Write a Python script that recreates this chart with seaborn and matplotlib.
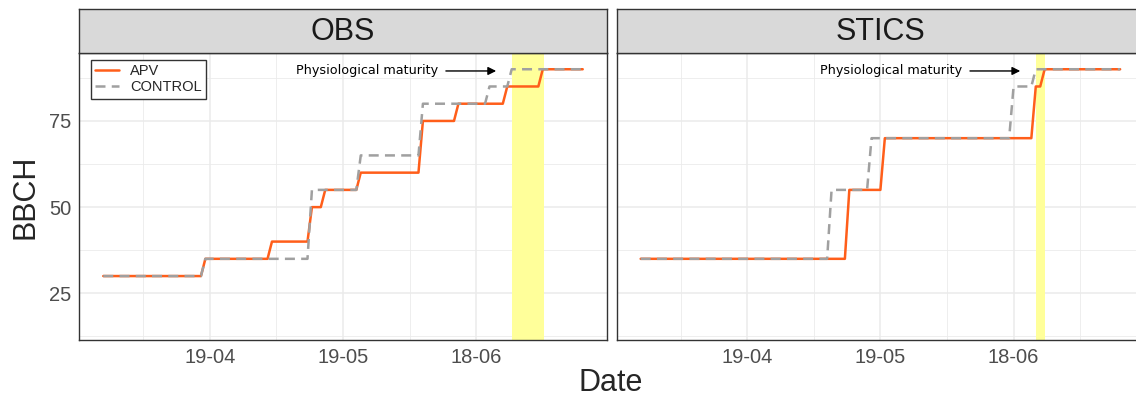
import numpy as np
import pandas as pd
import seaborn as sns
import matplotlib.pyplot as plt
import matplotlib.dates as mdates
from matplotlib.lines import Line2D

# BBCH stage series (vertices of the stepped lines)
obs_apv_dates = ["2022-03-26", "2022-04-17", "2022-04-18", "2022-05-02", "2022-05-03",
                 "2022-05-11", "2022-05-12", "2022-05-14", "2022-05-15", "2022-05-22",
                 "2022-05-23", "2022-06-05", "2022-06-06", "2022-06-13", "2022-06-14",
                 "2022-06-24", "2022-06-25", "2022-07-02", "2022-07-03", "2022-07-12"]
obs_apv_bbch = [30, 30, 35, 35, 40, 40, 50, 50, 55, 55, 60, 60, 75, 75, 80, 80, 85, 85, 90, 90]

obs_ctrl_dates = ["2022-03-26", "2022-04-17", "2022-04-18", "2022-05-11", "2022-05-12",
                  "2022-05-22", "2022-05-23", "2022-06-05", "2022-06-06", "2022-06-20",
                  "2022-06-21", "2022-06-25", "2022-06-26", "2022-07-12"]
obs_ctrl_bbch = [30, 30, 35, 35, 55, 55, 65, 65, 80, 80, 85, 85, 90, 90]

stics_apv_dates = ["2022-03-26", "2022-05-11", "2022-05-12", "2022-05-19", "2022-05-20",
                   "2022-06-22", "2022-06-23", "2022-06-24", "2022-06-25", "2022-07-12"]
stics_apv_bbch = [35, 35, 55, 55, 70, 70, 85, 85, 90, 90]

stics_ctrl_dates = ["2022-03-26", "2022-05-07", "2022-05-08", "2022-05-16", "2022-05-17",
                    "2022-06-17", "2022-06-18", "2022-06-22", "2022-06-23", "2022-07-12"]
stics_ctrl_bbch = [35, 35, 55, 55, 70, 70, 85, 85, 90, 90]

panels = ["OBS", "STICS"]
treatments = ["APV", "CONTROL"]
# physiological maturity window (yellow band)
maturity_start = ["2022-06-26", "2022-06-23"]
maturity_end = ["2022-07-03 04:00", "2022-06-25"]

major_ticks = ["2022-04-19", "2022-05-19", "2022-06-18"]
minor_ticks = ["2022-04-04", "2022-05-04", "2022-06-03", "2022-07-03"]

frames = []
for panel, trt, d, v in [("OBS", "APV", obs_apv_dates, obs_apv_bbch),
                         ("OBS", "CONTROL", obs_ctrl_dates, obs_ctrl_bbch),
                         ("STICS", "APV", stics_apv_dates, stics_apv_bbch),
                         ("STICS", "CONTROL", stics_ctrl_dates, stics_ctrl_bbch)]:
    frames.append(pd.DataFrame({"panel": panel, "treatment": trt,
                                "date": pd.to_datetime(d), "bbch": v}))
df = pd.concat(frames, ignore_index=True)

sns.set_theme(style="whitegrid")
plt.rcParams["font.family"] = ["Liberation Sans", "DejaVu Sans"]

orange = "#FF5E1A"
grey = "#A0A0A0"
palette = {"APV": orange, "CONTROL": grey}
dashes = {"APV": "", "CONTROL": (4, 2.5)}

fig = plt.figure(figsize=(11.36, 4.01), dpi=100)
W, H = 1136, 401
pw = 527.4
lefts = [79.3, 616.7]
top, bottom = 52.7, 340
strip_top = 9

# x limits: data range with 5% padding
xmin, xmax = df["date"].min(), df["date"].max()
pad = (xmax - xmin) * 0.05
xlim = (xmin - pad, xmax + pad)

for i, panel in enumerate(panels):
    ax = fig.add_axes([lefts[i] / W, 1 - bottom / H, pw / W, (bottom - top) / H])
    sub = df[df["panel"] == panel]

    ax.axvspan(pd.Timestamp(maturity_start[i]), pd.Timestamp(maturity_end[i]),
               color="#FFFF9A", lw=0, zorder=1)
    sns.lineplot(data=sub, x="date", y="bbch", hue="treatment", style="treatment",
                 hue_order=treatments, style_order=treatments, palette=palette,
                 dashes=dashes, estimator=None, linewidth=1.8, legend=False,
                 ax=ax, zorder=3)

    # annotation arrow pointing at maturity
    tip = pd.Timestamp(maturity_start[i]) - pd.Timedelta(days=3.5)
    txt = tip - pd.Timedelta(days=13)
    ax.annotate("Physiological maturity", xy=(tip, 89.5), xytext=(txt, 89.5),
                ha="right", va="center", fontsize=9.2, family="DejaVu Sans",
                color="black",
                arrowprops=dict(arrowstyle="-|>", color="black", lw=1,
                                shrinkA=3, shrinkB=0, mutation_scale=12))

    ax.set_xlim(xlim)
    ax.set_ylim(11.45, 94.8)
    ax.set_xticks(pd.to_datetime(major_ticks))
    ax.set_xticks(pd.to_datetime(minor_ticks), minor=True)
    ax.xaxis.set_major_formatter(mdates.DateFormatter("%d-%m"))
    ax.set_yticks([25, 50, 75])
    ax.set_yticks([12.5, 37.5, 62.5, 87.5], minor=True)
    ax.grid(which="major", color="#EBEBEB", lw=1.1, zorder=0)
    ax.grid(which="minor", color="#EBEBEB", lw=0.6, zorder=0)
    ax.set_axisbelow(True)
    ax.set_xlabel("")
    ax.set_ylabel("")
    for s in ax.spines.values():
        s.set_visible(True)
        s.set_color("#333333")
        s.set_linewidth(1.0)
    ax.tick_params(axis="both", which="major", direction="out", length=3.5, width=1,
                   color="#333333", labelsize=14.5, labelcolor="#4D4D4D", pad=2)
    ax.tick_params(axis="both", which="minor", length=0)
    if i == 1:
        ax.tick_params(axis="y", which="both", left=False, labelleft=False)
    else:
        handles = [Line2D([], [], color=orange, lw=1.8),
                   Line2D([], [], color=grey, lw=1.8, dashes=(4, 2.5))]
        leg = ax.legend(handles, treatments, loc="upper left",
                        bbox_to_anchor=(0.022, 0.975), borderaxespad=0,
                        fontsize=10.5, frameon=True, fancybox=False,
                        edgecolor="#333333", framealpha=1, handlelength=1.6,
                        labelspacing=0.15, borderpad=0.3, handletextpad=0.8)
        leg.get_frame().set_linewidth(1.0)

    # facet strip
    sax = fig.add_axes([lefts[i] / W, 1 - top / H, pw / W, (top - strip_top) / H])
    sax.set_facecolor("#D9D9D9")
    sax.set_xticks([])
    sax.set_yticks([])
    sax.grid(False)
    for s in sax.spines.values():
        s.set_visible(True)
        s.set_color("#333333")
        s.set_linewidth(1.0)
    sax.text(0.5, 0.47, panel, ha="center", va="center", fontsize=22,
             color="#1A1A1A", transform=sax.transAxes)

fig.text(611 / W, 1 - 383 / H, "Date", ha="center", va="center", fontsize=22)
fig.text(25 / W, 1 - 197 / H, "BBCH", ha="center", va="center", fontsize=22,
         rotation=90)

fig.savefig("out.png", dpi=100)
